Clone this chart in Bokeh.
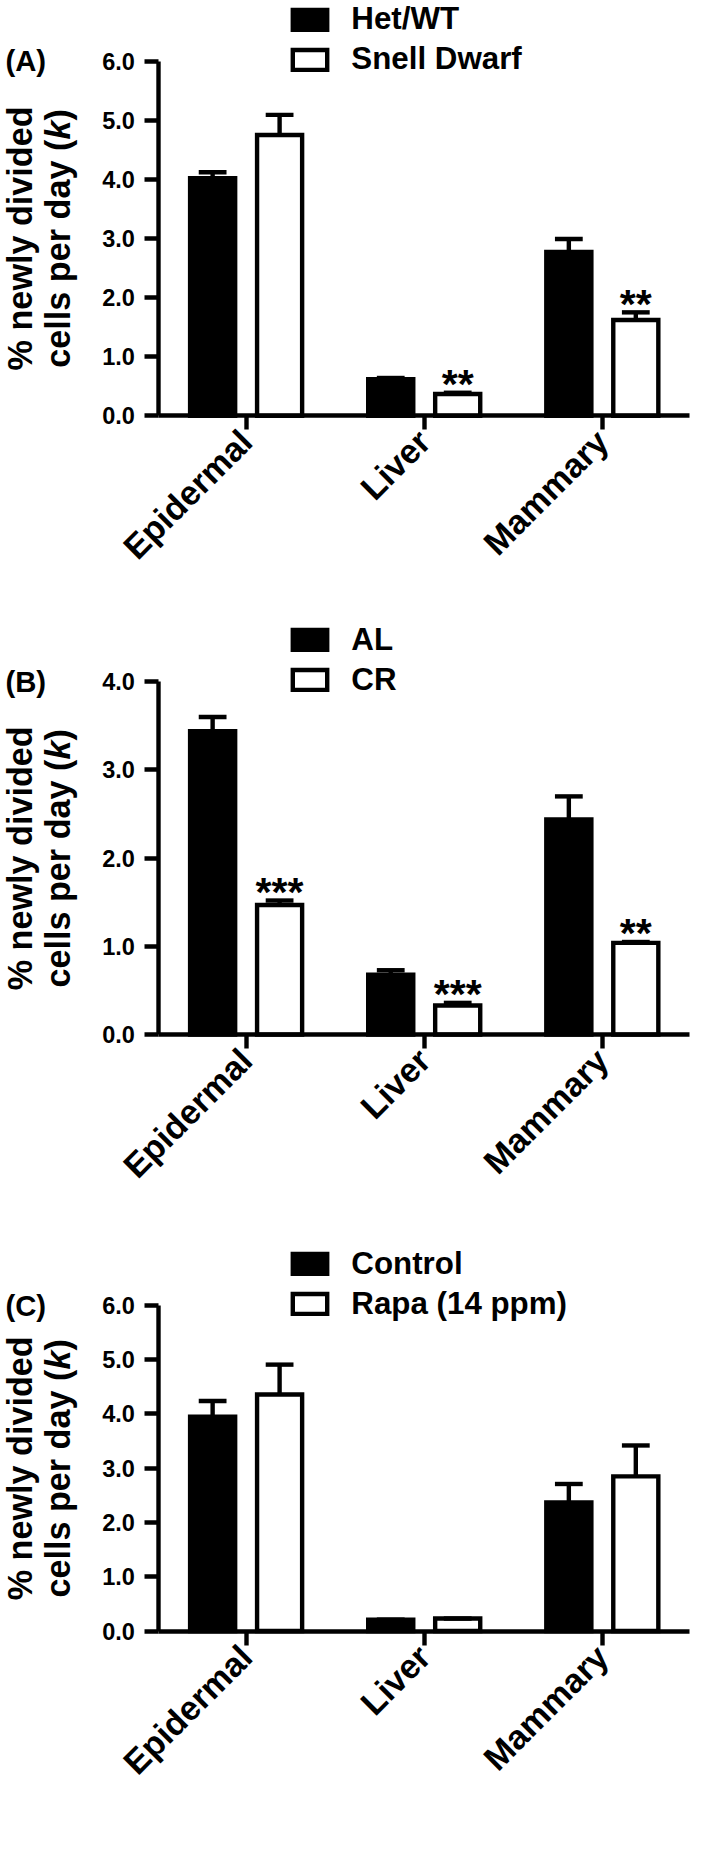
import numpy as np
from math import pi
from bokeh.plotting import figure
from bokeh.models import (Range1d, FixedTicker, Label, Legend, LegendItem,
                          ColumnDataSource, NumeralTickFormatter)
from bokeh.layouts import column
from bokeh.embed import file_html
from bokeh.resources import INLINE
from bokeh.core.properties import value

# ---------------- data ----------------
categories = ["Epidermal", "Liver", "Mammary"]

a_names = ["Het/WT", "Snell Dwarf"]
a_het = [4.02, 0.62, 2.77]
a_het_err = [0.10, 0.02, 0.22]
a_snell = [4.75, 0.37, 1.62]
a_snell_err = [0.34, 0.02, 0.13]
a_stars = ["", "**", "**"]
a_yticks = [0, 1, 2, 3, 4, 5, 6]

b_names = ["AL", "CR"]
b_al = [3.44, 0.68, 2.44]
b_al_err = [0.16, 0.05, 0.26]
b_cr = [1.47, 0.33, 1.04]
b_cr_err = [0.05, 0.03, 0.01]
b_stars = ["***", "***", "**"]
b_yticks = [0, 1, 2, 3, 4]

c_names = ["Control", "Rapa (14 ppm)"]
c_control = [3.95, 0.21, 2.37]
c_control_err = [0.29, 0.0, 0.34]
c_rapa = [4.36, 0.23, 2.85]
c_rapa_err = [0.55, 0.0, 0.57]
c_stars = ["", "", ""]
c_yticks = [0, 1, 2, 3, 4, 5, 6]

y_title_1 = "% newly divided"
y_title_2 = ["cells per day (", "k", ")"]

# ---------------- styling ----------------
S = 693 / 709
FONT = "Liberation Sans"


def P(v):
    return v * S


def F(v):
    return f"{v * S:.1f}px"


BAR_OFF = 0.188
BAR_W = 0.253
CAP_HALF = 0.078
LW = 4.5
FIG_W = 709
AX_LEFT = 162          # y axis position (reference px)
AX_RIGHT = 705         # end of x axis
X_LO, X_HI = -0.49, 2.49


def make_panel(letter, names, s1, e1, s2, e2, stars, yticks, fig_h, frame_top, frame_h):
    ymax = yticks[-1]
    ux = (AX_RIGHT - AX_LEFT) / (X_HI - X_LO)
    uy = frame_h / ymax
    x_start = X_LO - AX_LEFT / ux
    x_end = X_HI + (FIG_W - AX_RIGHT) / ux
    y_start = -(fig_h - frame_top - frame_h) / uy
    y_end = ymax + frame_top / uy

    p = figure(frame_width=round(P(FIG_W)), frame_height=round(P(fig_h)),
               x_range=Range1d(x_start, x_end), y_range=Range1d(y_start, y_end),
               output_backend="svg", toolbar_location=None,
               min_border=0, min_border_left=0, min_border_right=0,
               min_border_top=0, min_border_bottom=0)
    p.outline_line_color = None
    p.xgrid.visible = False
    p.ygrid.visible = False
    p.background_fill_color = "white"
    p.border_fill_color = "white"

    x = np.arange(len(categories), dtype=float)
    renderers = []
    for i, (vals, errs, color) in enumerate([(s1, e1, "black"), (s2, e2, "white")]):
        xs = x + (-BAR_OFF if i == 0 else BAR_OFF)
        v = np.array(vals, dtype=float)
        e = np.array(errs, dtype=float)
        src = ColumnDataSource(dict(x=xs, top=v, etop=v + e,
                                    cx0=xs - CAP_HALF, cx1=xs + CAP_HALF))
        r = p.vbar(x="x", top="top", bottom=0, width=BAR_W, source=src,
                   fill_color=color, line_color="black", line_width=P(LW),
                   line_join="miter")
        p.segment(x0="x", y0="top", x1="x", y1="etop", source=src,
                  line_color="black", line_width=P(LW))
        p.segment(x0="cx0", y0="etop", x1="cx1", y1="etop", source=src,
                  line_color="black", line_width=P(LW))
        renderers.append(r)
        if i == 1:
            ssrc = ColumnDataSource(dict(x=xs, y=v + e, t=stars))
            p.text(x="x", y="y", text="t", source=ssrc, text_align="center",
                   text_baseline="alphabetic", y_offset=P(-9),
                   text_font=value(FONT), text_font_style="bold",
                   text_font_size=F(42), text_color="black")

    # axes drawn at fixed data locations inside the frame
    p.xaxis.fixed_location = 0
    p.yaxis.fixed_location = X_LO
    p.xaxis.bounds = (X_LO, X_HI)
    p.yaxis.bounds = (0, ymax)
    p.xaxis.ticker = FixedTicker(ticks=list(range(len(categories))))
    p.xaxis.major_label_overrides = {i: c for i, c in enumerate(categories)}
    p.xaxis.major_label_orientation = pi / 4
    p.yaxis.ticker = FixedTicker(ticks=yticks)
    p.yaxis.formatter = NumeralTickFormatter(format="0.0")
    for ax in (p.xaxis, p.yaxis):
        ax.axis_line_width = P(LW)
        ax.axis_line_color = "black"
        ax.major_tick_line_width = P(LW)
        ax.major_tick_line_color = "black"
        ax.major_tick_in = 0
        ax.major_tick_out = round(P(14))
        ax.minor_tick_line_color = None
        ax.major_label_text_font = FONT
        ax.major_label_text_font_style = "bold"
        ax.major_label_text_color = "black"
    p.xaxis.major_label_text_font_size = F(35)
    p.xaxis.major_label_standoff = round(P(6))
    p.yaxis.major_label_text_font_size = F(24)
    p.yaxis.major_label_standoff = round(P(10))

    # legend (screen px from bottom-left of the panel)
    leg_top = frame_top - 59
    leg_h = 76
    legend = Legend(items=[LegendItem(label=names[0], renderers=[renderers[0]]),
                           LegendItem(label=names[1], renderers=[renderers[1]])],
                    location=(P(295), P(fig_h - leg_top - leg_h)), orientation="vertical",
                    glyph_width=round(P(44)), glyph_height=round(P(26)),
                    label_standoff=round(P(20)), spacing=round(P(4)),
                    padding=0, margin=0, border_line_color=None,
                    background_fill_alpha=0,
                    label_text_font=FONT, label_text_font_style="bold",
                    label_text_font_size=F(32), label_text_color="black")
    p.add_layout(legend)

    # panel letter
    p.add_layout(Label(x=P(5), y=P(fig_h - frame_top), x_units="screen", y_units="screen",
                       text=letter, text_align="left", text_baseline="alphabetic",
                       text_font=FONT, text_font_style="bold", text_font_size=F(30),
                       text_color="black"))

    # y title (two lines, italic k)
    fs = 35
    yc = fig_h - frame_top - frame_h / 2
    p.add_layout(Label(x=P(20), y=P(yc), x_units="screen", y_units="screen",
                       text=y_title_1, angle=pi / 2, text_align="center",
                       text_baseline="middle", text_font=FONT,
                       text_font_style="bold", text_font_size=F(fs),
                       text_color="black"))
    widths = [6.670, 0.556, 0.333]
    total = sum(widths) * fs
    start = yc - total / 2
    styles = ["bold", "bold italic", "bold"]
    for piece, w, st in zip(y_title_2, widths, styles):
        p.add_layout(Label(x=P(59), y=P(start), x_units="screen", y_units="screen",
                           text=piece, angle=pi / 2, text_align="left",
                           text_baseline="middle", text_font=FONT,
                           text_font_style=st, text_font_size=F(fs),
                           text_color="black"))
        start += w * fs
    return p


pA = make_panel("(A)", a_names, a_het, a_het_err, a_snell, a_snell_err, a_stars,
                a_yticks, 615, 62, 363)
pB = make_panel("(B)", b_names, b_al, b_al_err, b_cr, b_cr_err, b_stars,
                b_yticks, 630, 82, 361)
pC = make_panel("(C)", c_names, c_control, c_control_err, c_rapa, c_rapa_err, c_stars,
                c_yticks, 625, 90, 333)

layout = column(pA, pB, pC, spacing=0)
open("out.html", "w").write(file_html(layout, INLINE))
